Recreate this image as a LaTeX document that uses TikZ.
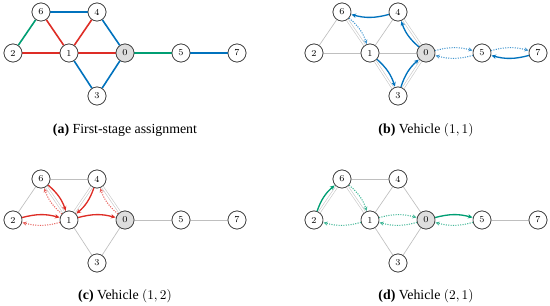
\documentclass[tikz,border=0pt]{standalone}
\usepackage{fontspec}
\newfontfamily\capfont{Liberation Serif}
\usetikzlibrary{arrows.meta}
\definecolor{cblue}{RGB}{0,114,189}
\definecolor{cred}{RGB}{222,45,38}
\definecolor{cgreen}{RGB}{0,158,115}
\newcommand\mknodes[1]{%
  \node[depot] (#10) at (125,53) {0};
  \node[vtx] (#11) at (69,53) {1};
  \node[vtx] (#12) at (13,53) {2};
  \node[vtx] (#13) at (97,96) {3};
  \node[vtx] (#14) at (97,12) {4};
  \node[vtx] (#15) at (181,53) {5};
  \node[vtx] (#16) at (41,12) {6};
  \node[vtx] (#17) at (237,53) {7};
}
\newcommand\grayedges[1]{%
  \foreach \u/\v in {6/4,2/6,6/1,4/1,4/0,2/1,1/0,0/5,5/7,1/3,3/0}
    \draw[base] (#1\u) -- (#1\v);
}
\begin{document}
\begin{tikzpicture}[x=0.75pt,y=-0.75pt,
  vtx/.style={circle,draw=black!72,line width=0.55pt,fill=white,minimum size=13.5pt,inner sep=0pt,font=\fontsize{6.8}{7}\selectfont},
  depot/.style={vtx,fill=black!13},
  base/.style={draw=black!25,line width=0.5pt},
  used/.style={draw=black!22,line width=0.45pt,double=white,double distance=1.1pt},
  aedge/.style={line width=1.2pt},
  serve/.style={line width=1pt,-{Stealth[length=3.5pt,width=3.2pt]},bend left=15,shorten >=0.3pt},
  dead/.style={line width=0.8pt,densely dotted,-{Stealth[length=3.2pt,width=3pt]},bend left=15,shorten >=0.3pt},
  captxt/.style={font=\capfont\fontsize{10.4}{12}\selectfont}
]
\useasboundingbox (0,0) rectangle (550,305);

% ---------- (a) ----------
\begin{scope}
  \mknodes{a}
  \draw[aedge,cblue] (a6) -- (a4);
  \draw[aedge,cgreen] (a2) -- (a6);
  \draw[aedge,cred] (a6) -- (a1);
  \draw[aedge,cred] (a4) -- (a1);
  \draw[aedge,cblue] (a4) -- (a0);
  \draw[aedge,cred] (a2) -- (a1);
  \draw[aedge,cred] (a1) -- (a0);
  \draw[aedge,cgreen] (a0) -- (a5);
  \draw[aedge,cblue] (a5) -- (a7);
  \draw[aedge,cblue] (a1) -- (a3);
  \draw[aedge,cblue] (a3) -- (a0);
  \mknodes{a}
\end{scope}
\node[captxt] (capa) at (125,130) {\textbf{(a)} First-stage assignment};

% ---------- (b) ----------
\begin{scope}[shift={(301,0)}]
  \mknodes{b}
  \grayedges{b}
  \foreach \u/\v in {6/4,4/0,6/1,1/3,3/0,0/5,5/7}
    \draw[used] (b\u) -- (b\v);
  \mknodes{b}
  \draw[serve,cblue] (b4) to (b6);
  \draw[dead,cblue!75] (b6) to (b1);
  \draw[serve,cblue] (b1) to (b3);
  \draw[serve,cblue] (b3) to (b0);
  \draw[serve,cblue] (b0) to (b4);
  \draw[dead,cblue!75] (b0) to (b5);
  \draw[dead,cblue!75] (b5) to (b0);
  \draw[dead,cblue!75] (b5) to (b7);
  \draw[serve,cblue] (b7) to (b5);
\end{scope}
\node[captxt] (capb) at (426,130) {\textbf{(b)} Vehicle $(1,1)$};

% ---------- (c) ----------
\begin{scope}[shift={(0,167)}]
  \mknodes{c}
  \grayedges{c}
  \foreach \u/\v in {6/1,4/1,4/0,2/1,1/0}
    \draw[used] (c\u) -- (c\v);
  \mknodes{c}
  \draw[serve,cred] (c2) to (c1);
  \draw[dead,cred!75] (c1) to (c2);
  \draw[serve,cred] (c6) to (c1);
  \draw[dead,cred!75] (c1) to (c6);
  \draw[serve,cred] (c4) to (c1);
  \draw[serve,cred] (c1) to (c0);
  \draw[dead,cred!75] (c0) to (c4);
\end{scope}
\node[captxt] (capc) at (125,296) {\textbf{(c)} Vehicle $(1,2)$};

% ---------- (d) ----------
\begin{scope}[shift={(301,167)}]
  \mknodes{d}
  \grayedges{d}
  \foreach \u/\v in {2/6,6/1,2/1,1/0,0/5}
    \draw[used] (d\u) -- (d\v);
  \mknodes{d}
  \draw[serve,cgreen] (d2) to (d6);
  \draw[dead,cgreen!75] (d6) to (d1);
  \draw[dead,cgreen!75] (d1) to (d2);
  \draw[dead,cgreen!75] (d1) to (d0);
  \draw[dead,cgreen!75] (d0) to (d1);
  \draw[serve,cgreen] (d0) to (d5);
  \draw[dead,cgreen!75] (d5) to (d0);
\end{scope}
\node[captxt] (capd) at (426,296) {\textbf{(d)} Vehicle $(2,1)$};
\end{tikzpicture}
\end{document}
